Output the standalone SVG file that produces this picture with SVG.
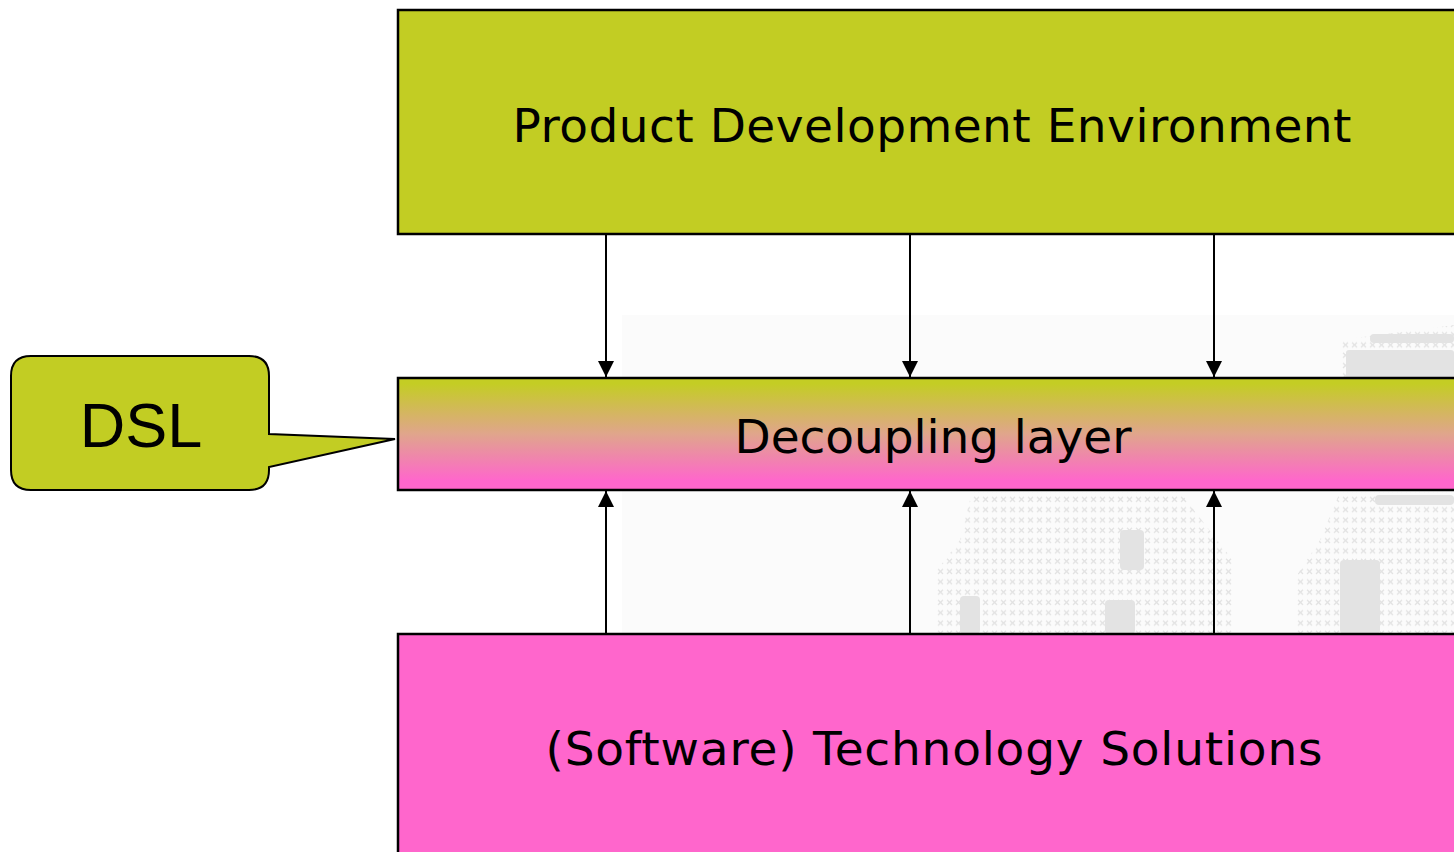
<svg xmlns="http://www.w3.org/2000/svg" width="1454" height="852" viewBox="0 0 1454 852">
  <style>
    .box { stroke: #000; stroke-width: 2.5; }
    .lbl { font-family: "DejaVu Sans", Verdana, sans-serif; font-size: 47px; fill: #000; text-anchor: middle; }
    .dsl { font-family: "Liberation Sans", Arial, sans-serif; font-size: 63px; fill: #000; text-anchor: middle; }
    .link { stroke: #000; stroke-width: 2; fill: none; }
    .map { fill: url(#crosses); }
    .dots { fill: #e3e3e3; }
  </style>
  <defs>
    <linearGradient id="layerFill" x1="0" y1="0" x2="0" y2="1">
      <stop offset="0.05" stop-color="#c4cd24"/>
      <stop offset="0.5" stop-color="#e0a58c"/>
      <stop offset="0.92" stop-color="#ff66cc"/>
    </linearGradient>
    <pattern id="crosses" width="9" height="10.3" patternUnits="userSpaceOnUse">
      <path d="M2,2.5 L7,7.5 M7,2.5 L2,7.5" stroke="#e2e2e2" stroke-width="1.3"/>
    </pattern>
    <marker id="head" viewBox="0 0 16 16" refX="16" refY="8" markerWidth="16" markerHeight="16" markerUnits="userSpaceOnUse" orient="auto">
      <path d="M0,0 L16,8 L0,16 Z" fill="#000"/>
    </marker>
  </defs>

  <rect width="1454" height="852" fill="#fff"/>

  <!-- faint world-map backdrop -->
  <g id="backdrop">
    <rect x="622" y="315" width="832" height="319" fill="#fbfbfb"/>
    <polygon class="map" points="972,492 1180,492 1217,540 1233,560 1233,634 937,634 937,570 960,540"/>
    <polygon class="map" points="1340,492 1454,492 1454,634 1297,634 1297,575 1320,540"/>
    <polygon class="map" points="1340,340 1454,325 1454,378 1340,378"/>
    <rect class="dots" x="1375" y="495" width="79" height="10" rx="4"/>
    <rect class="dots" x="1340" y="560" width="40" height="74" rx="4"/>
    <rect class="dots" x="1370" y="334" width="84" height="9" rx="4"/>
    <rect class="dots" x="1346" y="350" width="108" height="28" rx="3"/>
    <rect class="dots" x="1120" y="530" width="24" height="40" rx="4"/>
    <rect class="dots" x="960" y="596" width="20" height="38" rx="4"/>
    <rect class="dots" x="1105" y="600" width="30" height="34" rx="4"/>
  </g>

  <!-- connectors -->
  <g id="connectors">
    <line class="link" x1="606" y1="235" x2="606" y2="377" marker-end="url(#head)"/>
    <line class="link" x1="910" y1="235" x2="910" y2="377" marker-end="url(#head)"/>
    <line class="link" x1="1214" y1="235" x2="1214" y2="377" marker-end="url(#head)"/>
    <line class="link" x1="606" y1="633" x2="606" y2="491" marker-end="url(#head)"/>
    <line class="link" x1="910" y1="633" x2="910" y2="491" marker-end="url(#head)"/>
    <line class="link" x1="1214" y1="633" x2="1214" y2="491" marker-end="url(#head)"/>
  </g>

  <g id="product-dev">
    <rect class="box" x="398" y="10" width="1072" height="224" fill="#c2cd23"/>
    <text class="lbl" x="932" y="142" textLength="839" lengthAdjust="spacing">Product Development Environment</text>
  </g>

  <g id="decoupling">
    <rect class="box" x="398" y="378" width="1072" height="112" fill="url(#layerFill)"/>
    <text class="lbl" x="933" y="453" textLength="397" lengthAdjust="spacing">Decoupling layer</text>
  </g>

  <g id="tech-solutions">
    <rect class="box" x="398" y="634" width="1072" height="240" fill="#ff66cc"/>
    <text class="lbl" x="934" y="765" textLength="777" lengthAdjust="spacing">(Software) Technology Solutions</text>
  </g>

  <g id="dsl">
    <path d="M31,356 H249 Q269,356 269,376 V434 L395,439 L269,467 V470 Q269,490 249,490 H31 Q11,490 11,470 V376 Q11,356 31,356 Z" fill="#c2cd23" stroke="#000" stroke-width="2"/>
    <text class="dsl" x="141" y="447">DSL</text>
  </g>
</svg>
